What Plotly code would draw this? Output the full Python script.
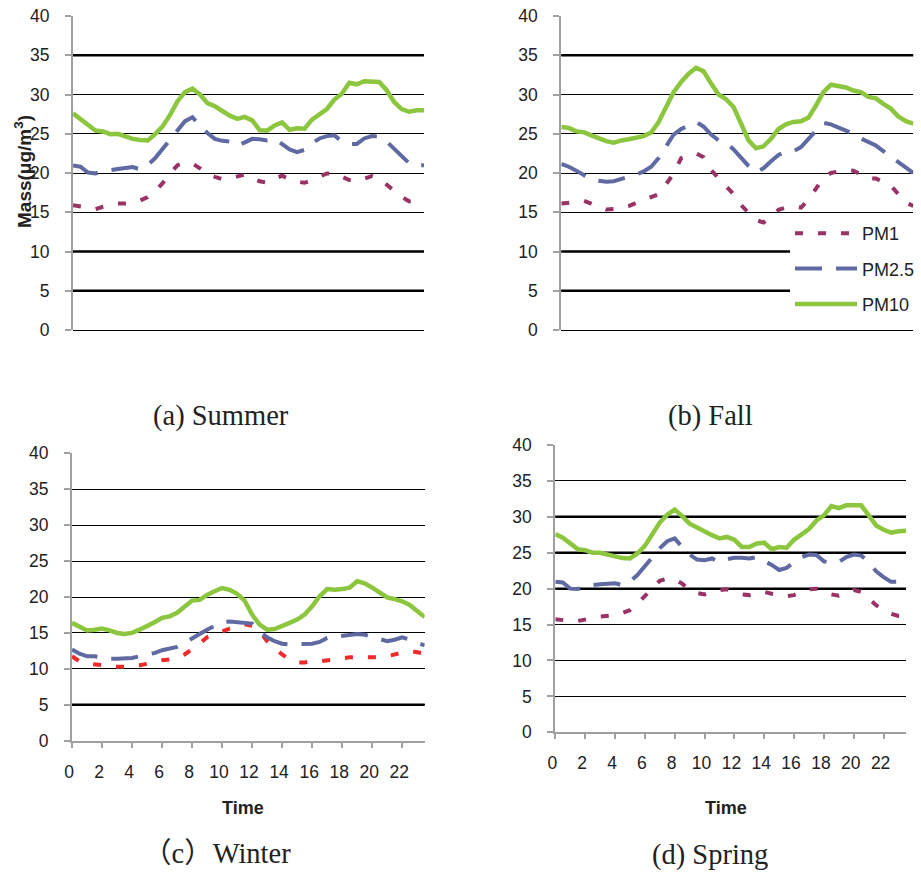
import plotly.graph_objects as go

# Half-hourly time of day (h)
HOURS = [i * 0.5 for i in range(48)]
TICK_HOURS = [0, 2, 4, 6, 8, 10, 12, 14, 16, 18, 20, 22]
TICK_TEXT = ["0", "2", "4", "6", "8", "10", "12", "14", "16", "18", "20", "22"]

SERIES_NAMES = ["PM1", "PM2.5", "PM10"]

# Summer
SUMMER_PM1 = [15.9, 15.7, 15.5, 15.4, 15.7, 15.9, 16.1, 16.1, 16.2, 16.5,
              16.95, 17.7, 18.7, 19.95, 21.0, 21.3, 21.2, 20.6, 19.85, 19.5,
              19.2, 19.3, 19.5, 19.8, 19.3, 18.95, 18.75, 19.3, 19.65, 19.2,
              18.9, 18.75, 19.1, 19.5, 19.95, 19.95, 19.5, 19.1, 18.95, 19.3,
              19.6, 19.3, 18.5, 17.7, 16.95, 16.4, 16.25, 16.2]
SUMMER_PM25 = [20.95, 20.8, 20.05, 19.95, 20.2, 20.4, 20.5, 20.65, 20.75, 20.45,
               21.0, 21.9, 23.1, 24.35, 25.5, 26.6, 27.1, 26.0, 25.1, 24.35,
               24.1, 24.0, 23.45, 23.9, 24.35, 24.3, 24.15, 24.35, 23.6, 23.0,
               22.65, 22.95, 23.8, 24.4, 24.7, 24.8, 24.0, 23.7, 23.7, 24.4,
               24.7, 24.65, 24.0, 23.1, 22.2, 21.25, 20.95, 21.0]
SUMMER_PM10 = [27.6, 26.9, 26.15, 25.4, 25.3, 24.95, 25.0, 24.65, 24.35, 24.2,
               24.15, 24.95, 25.95, 27.4, 29.15, 30.3, 30.75, 30.0, 28.9, 28.5,
               27.85, 27.3, 26.9, 27.15, 26.7, 25.45, 25.4, 26.05, 26.45, 25.5,
               25.7, 25.65, 26.8, 27.5, 28.15, 29.35, 30.1, 31.5, 31.3, 31.7,
               31.6, 31.6, 30.55, 29.05, 28.15, 27.8, 28.0, 28.0]

# Fall
FALL_PM1 = [16.1, 16.2, 16.35, 16.45, 16.1, 15.7, 15.35, 15.4, 15.6, 15.8,
            16.2, 16.6, 16.95, 17.3, 18.6, 19.9, 21.9, 22.2, 22.5, 22.0,
            20.4, 19.3, 18.3, 17.3, 15.9, 14.9, 14.0, 13.7, 14.4, 15.3,
            15.6, 15.7, 15.6, 16.6, 17.9, 19.4, 20.0, 20.2, 20.4, 20.3,
            19.8, 19.3, 19.3, 18.9, 18.4, 17.3, 16.2, 15.8]
FALL_PM25 = [21.15, 20.8, 20.3, 19.8, 19.2, 19.0, 18.9, 18.95, 19.2, 19.5,
             19.8, 20.2, 20.8, 21.9, 23.3, 24.9, 25.6, 26.1, 26.5, 25.9,
             24.9, 24.15, 23.9, 23.0, 22.0, 20.9, 20.1, 20.6, 21.5, 22.3,
             22.7, 22.75, 23.3, 24.3, 25.3, 26.4, 26.2, 25.8, 25.4, 25.0,
             24.4, 23.9, 23.5, 22.8, 22.1, 21.3, 20.6, 20.0]
FALL_PM10 = [25.85, 25.75, 25.3, 25.2, 24.8, 24.35, 24.05, 23.85, 24.15, 24.3,
             24.55, 24.7, 25.15, 26.5, 28.4, 30.3, 31.6, 32.65, 33.4, 32.95,
             31.4, 30.0, 29.4, 28.4, 26.3, 24.15, 23.15, 23.4, 24.35, 25.6,
             26.2, 26.5, 26.6, 27.05, 28.6, 30.3, 31.25, 31.05, 30.9, 30.5,
             30.3, 29.7, 29.5, 28.8, 28.2, 27.2, 26.6, 26.3]

# Winter
WINTER_PM1 = [11.75, 11.05, 10.75, 10.6, 10.45, 10.4, 10.3, 10.3, 10.45, 10.5,
              10.7, 11.0, 11.2, 11.3, 11.5, 12.0, 12.7, 13.5, 14.4, 14.85,
              15.2, 15.6, 15.8, 16.2, 16.0, 15.2, 13.85, 12.9, 12.0, 11.3,
              10.9, 10.9, 11.05, 11.05, 11.2, 11.4, 11.5, 11.6, 11.65, 11.65,
              11.65, 11.6, 11.75, 12.0, 12.2, 12.5, 12.3, 12.1]
WINTER_PM25 = [12.7, 12.1, 11.75, 11.75, 11.6, 11.4, 11.4, 11.4, 11.5, 11.75,
               12.0, 12.2, 12.6, 12.8, 13.05, 13.6, 14.3, 14.85, 15.45, 16.0,
               16.5, 16.6, 16.5, 16.4, 16.3, 15.2, 14.4, 13.85, 13.5, 13.4,
               13.4, 13.4, 13.5, 13.75, 14.3, 14.45, 14.6, 14.75, 14.85, 14.75,
               14.45, 14.05, 13.85, 14.05, 14.4, 14.05, 13.6, 13.25]
WINTER_PM10 = [16.4, 15.8, 15.35, 15.45, 15.6, 15.35, 15.0, 14.85, 15.0, 15.45,
               15.9, 16.5, 17.1, 17.3, 17.8, 18.7, 19.5, 19.6, 20.3, 20.8,
               21.25, 21.0, 20.45, 19.5, 17.55, 16.15, 15.45, 15.55, 15.9, 16.4,
               16.85, 17.55, 18.7, 20.1, 21.1, 21.0, 21.1, 21.3, 22.2, 21.9,
               21.3, 20.65, 19.95, 19.7, 19.4, 18.9, 18.0, 17.2]

# Spring
SPRING_PM1 = [15.75, 15.6, 15.5, 15.5, 15.75, 15.9, 16.1, 16.2, 16.3, 16.6,
              17.0, 17.9, 18.95, 20.0, 21.1, 21.4, 21.3, 20.7, 19.8, 19.4,
              19.2, 19.55, 19.8, 19.9, 19.5, 19.2, 19.1, 19.3, 19.55, 19.3,
              19.1, 18.95, 19.1, 19.55, 19.9, 20.0, 19.8, 19.2, 19.0, 19.2,
              19.8, 19.55, 18.6, 17.7, 17.0, 16.5, 16.2, 16.1]
SPRING_PM25 = [20.95, 20.85, 20.0, 19.95, 20.25, 20.5, 20.6, 20.7, 20.75, 20.5,
               21.0, 21.9, 23.2, 24.4, 25.6, 26.6, 27.0, 25.8, 24.75, 24.05,
               23.95, 24.2, 23.7, 24.1, 24.3, 24.3, 24.2, 24.4, 23.9, 23.3,
               22.6, 22.9, 23.7, 24.4, 24.75, 24.7, 23.8, 23.6, 23.7, 24.4,
               24.75, 24.6, 23.7, 22.4, 21.6, 20.95, 20.95, 21.1]
SPRING_PM10 = [27.6, 27.1, 26.3, 25.5, 25.35, 25.0, 25.0, 24.75, 24.4, 24.25,
               24.2, 24.9, 25.95, 27.45, 29.2, 30.3, 31.0, 30.1, 29.05, 28.5,
               27.9, 27.45, 27.0, 27.2, 26.8, 25.8, 25.8, 26.3, 26.4, 25.5,
               25.8, 25.7, 26.8, 27.5, 28.3, 29.5, 30.2, 31.5, 31.2, 31.6,
               31.6, 31.6, 30.2, 28.8, 28.2, 27.8, 28.0, 28.05]

PANELS = [
    # (x axis id, y axis id, [PM1, PM2.5, PM10], PM1 colour, show legend)
    ("x", "y", [SUMMER_PM1, SUMMER_PM25, SUMMER_PM10], "#993366", False),
    ("x2", "y2", [FALL_PM1, FALL_PM25, FALL_PM10], "#993366", True),
    ("x3", "y3", [WINTER_PM1, WINTER_PM25, WINTER_PM10], "#EE2A2A", False),
    ("x4", "y4", [SPRING_PM1, SPRING_PM25, SPRING_PM10], "#993366", False),
]

PM25_COLOR = "#5F6AA2"
PM10_COLOR = "#8CC63F"

fig = go.Figure()

for xa, ya, (pm1, pm25, pm10), pm1_color, show in PANELS:
    fig.add_trace(go.Scatter(
        x=HOURS, y=pm1, mode="lines", name=SERIES_NAMES[0], xaxis=xa, yaxis=ya,
        line=dict(color=pm1_color, width=4, dash="8px,15px"),
        showlegend=show, legendgroup="pm1"))
    fig.add_trace(go.Scatter(
        x=HOURS, y=pm25, mode="lines", name=SERIES_NAMES[1], xaxis=xa, yaxis=ya,
        line=dict(color=PM25_COLOR, width=4, dash="27px,14px"),
        showlegend=show, legendgroup="pm25"))
    fig.add_trace(go.Scatter(
        x=HOURS, y=pm10, mode="lines", name=SERIES_NAMES[2], xaxis=xa, yaxis=ya,
        line=dict(color=PM10_COLOR, width=4.5),
        showlegend=show, legendgroup="pm10"))

W, H = 921, 874

def xdom(left, right):
    return [left / W, right / W]

def ydom(top, bottom):
    return [1 - bottom / H, 1 - top / H]

AXIS_GREY = "#A0A0A0"
TICK_FONT = dict(family="Liberation Sans, Arial, sans-serif", size=17.5, color="#222222")

def y_axis(anchor, dom, zero_black):
    return dict(
        domain=dom, anchor=anchor, range=[0, 40], dtick=5, tick0=0,
        showgrid=True, gridcolor="black", gridwidth=1,
        zeroline=zero_black, zerolinecolor="black", zerolinewidth=1,
        showline=True, linecolor=AXIS_GREY, linewidth=2,
        ticks="outside", ticklen=6, tickcolor=AXIS_GREY, tickwidth=1.5,
        tickfont=TICK_FONT, ticklabelstandoff=12, fixedrange=True,
        automargin=False)

def x_axis(anchor, dom, labelled):
    base = dict(domain=dom, anchor=anchor, range=[0, 23.5], showgrid=False,
                zeroline=False, fixedrange=True, automargin=False)
    if labelled:
        base.update(showline=True, linecolor=AXIS_GREY, linewidth=2,
                    ticks="outside", ticklen=5, tickcolor=AXIS_GREY, tickwidth=1.5,
                    tickvals=TICK_HOURS, ticktext=TICK_TEXT, tickfont=TICK_FONT,
                    ticklabelstandoff=9, ticklabelshift=-3)
    else:
        base.update(showline=False, ticks="", showticklabels=False)
    return base

fig.update_layout(
    width=W, height=H,
    margin=dict(l=0, r=0, t=0, b=0, autoexpand=False),
    paper_bgcolor="white", plot_bgcolor="white",
    xaxis=x_axis("y", xdom(73, 424), False),
    yaxis=y_axis("x", ydom(16, 330), True),
    xaxis2=x_axis("y2", xdom(561.3, 913.3), False),
    yaxis2=y_axis("x2", ydom(16, 330), True),
    xaxis3=x_axis("y3", xdom(72, 424.7), True),
    yaxis3=y_axis("x3", ydom(453.3, 740.7), False),
    xaxis4=x_axis("y4", xdom(555.3, 906), True),
    yaxis4=y_axis("x4", ydom(445, 732.3), False),
    legend=dict(
        x=790 / W, y=1 - 215 / H, xanchor="left", yanchor="top",
        bgcolor="white", borderwidth=0,
        font=dict(family="Liberation Sans, Arial, sans-serif", size=18, color="#222222"),
        itemwidth=62, tracegroupgap=9, traceorder="grouped"),
)

# Heavier rendering of some horizontal grid lines
THICK_GRID = {"y": [35, 10, 5], "y2": [35, 10, 5], "y3": [5], "y4": [30, 25, 20]}
for ya, vals in THICK_GRID.items():
    xa = "x" + ya[1:]
    for v in vals:
        fig.add_shape(type="line", xref=f"{xa} domain", yref=ya,
                      x0=0, x1=1, y0=v, y1=v, layer="below",
                      line=dict(color="black", width=2.5))

CAPTION_FONT = dict(family="Liberation Serif, Times New Roman, Noto Sans CJK JP, serif",
                    size=28.5, color="#222222")
BOLD_FONT = dict(family="Liberation Sans, Arial, sans-serif", size=18, color="#222222")

annotations = [
    dict(text="<b>Mass(μg/m<sup>3</sup>)</b>", x=23 / W, y=1 - 172 / H, textangle=-90,
         font=dict(family="Liberation Sans, Arial, sans-serif", size=19, color="#222222")),
    dict(text="<b>Time</b>", x=243 / W, y=1 - 808 / H, font=BOLD_FONT),
    dict(text="<b>Time</b>", x=726 / W, y=1 - 808 / H, font=BOLD_FONT),
    dict(text="(a) Summer", x=221 / W, y=1 - 416 / H, font=CAPTION_FONT),
    dict(text="(b) Fall", x=710 / W, y=1 - 416 / H, font=CAPTION_FONT),
    dict(text="（c）Winter", x=217 / W, y=1 - 853 / H, font=CAPTION_FONT),
    dict(text="(d) Spring", x=710 / W, y=1 - 855 / H, font=CAPTION_FONT),
]
for a in annotations:
    a.update(xref="paper", yref="paper", showarrow=False, xanchor="center", yanchor="middle")
fig.update_layout(annotations=annotations)

fig.write_html("out.html")
